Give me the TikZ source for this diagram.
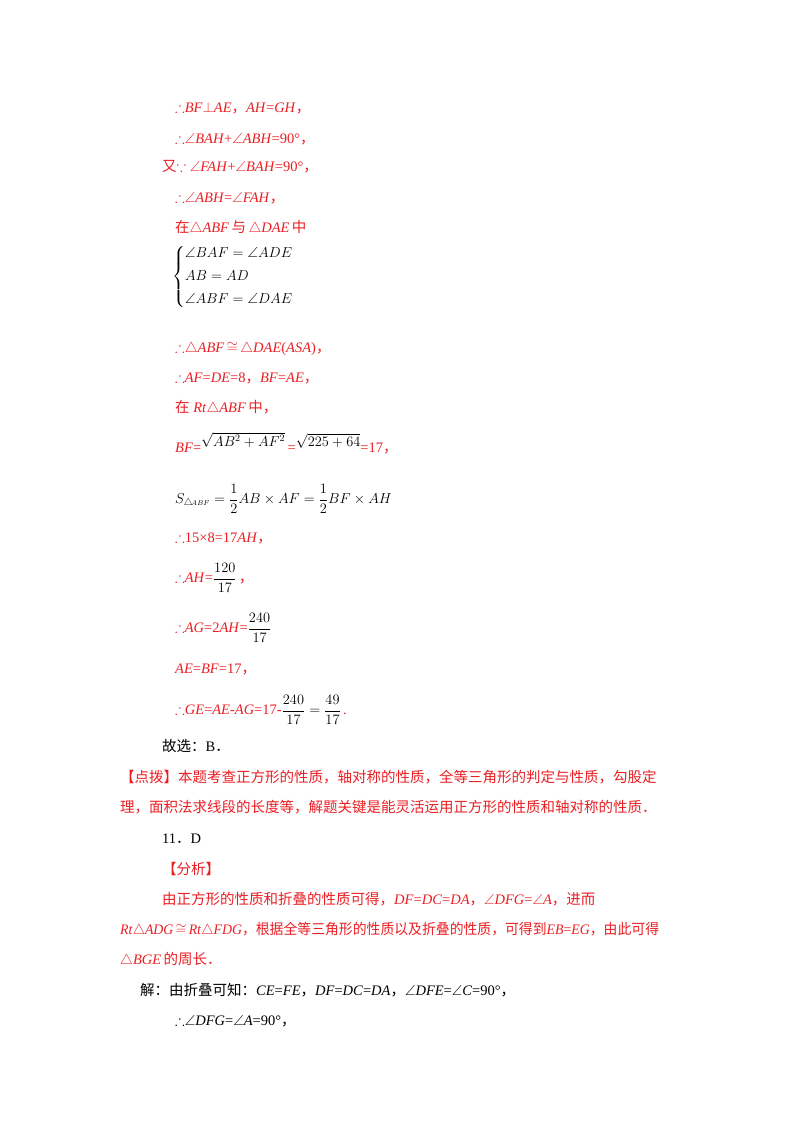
\documentclass[tikz,border=0pt]{standalone}
\usepackage{amsmath,amssymb}
\usepackage{fontspec}
\setmainfont{Liberation Serif}
\newfontfamily\cjk{Noto Sans CJK SC}
\newcommand{\zh}[1]{{\cjk #1}}
\definecolor{rd}{RGB}{235,30,35}
\tikzset{t/.style={anchor=base west,inner sep=0pt,font=\fontsize{14.5}{17}\selectfont},r/.style={t,text=rd}}
\begin{document}
\begin{tikzpicture}[x=1pt,y=-1pt]
\useasboundingbox (0,0) rectangle (800,1132);
\node[r] (l1) at (175,112) {$\therefore$\textit{BF}$\perp$\textit{AE}\zh{，}\textit{AH}=\textit{GH}\zh{，}};
\node[r] (l2) at (175,143) {$\therefore$$\angle$\textit{BAH}+$\angle$\textit{ABH}=90°\zh{，}};
\node[r] (l3) at (162,171) {\zh{又}$\because$ $\angle$\textit{FAH}+$\angle$\textit{BAH}=90°\zh{，}};
\node[r] (l4) at (175,202) {$\therefore$$\angle$\textit{ABH}=$\angle$\textit{FAH}\zh{，}};
\node[r] (l5) at (175,232) {\zh{在}$\triangle$\textit{ABF}\,\zh{与}\,$\triangle$\textit{DAE}\,\zh{中}};
\node[t,anchor=west] (sys) at (172,277) {$\left\{\begin{aligned}&\angle BAF=\angle ADE\\[3pt]&AB = AD\\[3pt]&\angle ABF=\angle DAE\end{aligned}\right.$};
\node[r] (l6) at (175,352) {$\therefore$$\triangle$\textit{ABF}\,$\cong$\,$\triangle$\textit{DAE}(\textit{ASA})\zh{，}};
\node[r] (l7) at (175,382) {$\therefore$\textit{AF}=\textit{DE}=8\zh{，}\textit{BF}=\textit{AE}\zh{，}};
\node[r] (l8) at (175,412) {\zh{在} \textit{Rt}$\triangle$\textit{ABF}\,\zh{中}\zh{，}};
\node[r] (l9) at (175,452) {\textit{BF}=\raisebox{6pt}{\textcolor{black}{$\sqrt{AB^2+AF^2}$}}\,=\raisebox{6pt}{\textcolor{black}{$\sqrt{225+64}$}}=17\zh{，}};
\node[t,anchor=west] (l10) at (175,499) {$S_{\triangle\!{\scriptscriptstyle ABF}}=\dfrac{1}{2}AB\times AF=\dfrac{1}{2}BF\times AH$};
\node[r] (l11) at (175,542) {$\therefore$15×8=17\textit{AH}\zh{，}};
\node[r,anchor=west] (l12) at (175,578) {$\therefore$\textit{AH}=\textcolor{black}{$\dfrac{120}{17}$}\,\zh{，}};
\node[r,anchor=west] (l13) at (175,628) {$\therefore$\textit{AG}=2\textit{AH}=\textcolor{black}{$\dfrac{240}{17}$}};
\node[r] (l14) at (175,673) {\textit{AE}=\textit{BF}=17\zh{，}};
\node[r,anchor=west] (l15) at (175,710) {$\therefore$\textit{GE}=\textit{AE}-\textit{AG}=17-\textcolor{black}{$\dfrac{240}{17}=\dfrac{49}{17}$}\,.};
\node[t] (l16) at (162,751) {\zh{故选：}B\zh{．}};
\node[r] (l17) at (120,782) {\zh{【点拨】本题考查正方形的性质，轴对称的性质，全等三角形的判定与性质，勾股定}};
\node[r] (l18) at (120,812) {\zh{理，面积法求线段的长度等，解题关键是能灵活运用正方形的性质和轴对称的性质．}};
\node[t] (l19) at (162,843) {11\zh{．}D};
\node[r] (l20) at (162,874) {\zh{【分析】}};
\node[r] (l21) at (162,904) {\zh{由正方形的性质和折叠的性质可得，}\textit{DF}=\textit{DC}=\textit{DA}\zh{，}$\angle$\textit{DFG}=$\angle$\textit{A}\zh{，进而}};
\node[r] (l22) at (120,934) {\scalebox{0.955}[1]{\textit{Rt}$\triangle$\textit{ADG}\,$\cong$\,\textit{Rt}$\triangle$\textit{FDG}\zh{，根据全等三角形的性质以及折叠的性质，可得到}\textit{EB}=\textit{EG}\zh{，由此可得}}};
\node[r] (l23) at (120,964) {$\triangle$\textit{BGE}\,\zh{的周长．}};
\node[t] (l24) at (140,995) {\zh{解：由折叠可知：}\textit{CE}=\textit{FE}\zh{，}\textit{DF}=\textit{DC}=\textit{DA}\zh{，}$\angle$\textit{DFE}=$\angle$\textit{C}=90°\zh{，}};
\node[t] (l25) at (175,1025) {$\therefore$$\angle$\textit{DFG}=$\angle$\textit{A}=90°\zh{，}};
\end{tikzpicture}
\end{document}
